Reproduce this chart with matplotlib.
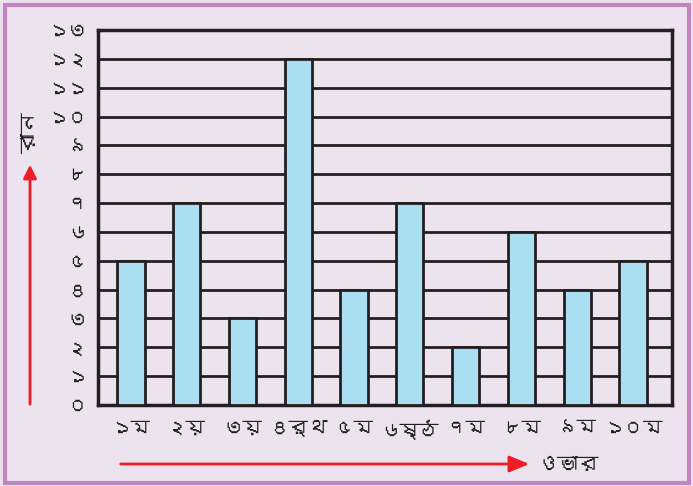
import matplotlib
matplotlib.use("Agg")
import matplotlib.pyplot as plt
from matplotlib import font_manager
from matplotlib.ft2font import FT2Font
from matplotlib.patches import Rectangle, FancyArrowPatch


def bengali_families():
    """Installed font families that carry Bengali glyphs."""
    found = []
    for entry in font_manager.fontManager.ttflist:
        try:
            cmap = FT2Font(entry.fname).get_charmap()
        except Exception:
            continue
        if 0x09B0 in cmap and 0x09E7 in cmap and entry.name not in found:
            found.append(entry.name)
    return found


families = bengali_families()
plt.rcParams['font.family'] = families + ['DejaVu Sans']

overs = ['১ম', '২য়', '৩য়', '৪র্থ', '৫ম', '৬ষ্ঠ', '৭ম', '৮ম', '৯ম', '১০ম']
runs = [5, 7, 3, 12, 4, 7, 2, 6, 4, 5]
y_ticks = list(range(0, 14))
y_tick_labels = ['০', '১', '২', '৩', '৪', '৫', '৬', '৭', '৮', '৯', '১০', '১১', '১২', '১৩']
x_title = 'ওভার'
y_title = 'রান'

bg = '#ede3ef'
ink = '#231f20'

fig = plt.figure(figsize=(6.93, 4.86), dpi=100, facecolor=bg)
ax = fig.add_axes([98 / 693, 1 - 405 / 486, (672 - 98) / 693, (405 - 30) / 486])
ax.set_facecolor(bg)

x = list(range(len(overs)))
ax.set_axisbelow(True)
ax.yaxis.grid(True, color=ink, linewidth=2)
ax.bar(x, runs, width=0.49, color='#aadff2', edgecolor=ink, linewidth=2, zorder=3)

ax.set_xlim(-0.59, 9.7)
ax.set_ylim(0, 13)
ax.set_yticks(y_ticks)
ax.set_yticklabels(y_tick_labels, fontsize=14, color=ink)
ax.set_xticks(x)
ax.set_xticklabels(overs, fontsize=14, color=ink)
ax.tick_params(axis='y', length=0, pad=8)
ax.tick_params(axis='x', length=0, pad=11)
for s in ax.spines.values():
    s.set_color(ink)
    s.set_linewidth(2.5)

# outer frame
fig.patches.append(Rectangle((5 / 693, 3 / 486), 684 / 693, 478 / 486, transform=fig.transFigure,
                             fill=False, edgecolor='#bf86c0', linewidth=3))

# axis arrows
fig.patches.append(FancyArrowPatch((30 / 693, 1 - 407 / 486), (30 / 693, 1 - 162 / 486),
                                   transform=fig.transFigure, arrowstyle='-|>,head_length=8,head_width=4',
                                   color='#ee1c25', linewidth=2))
fig.patches.append(FancyArrowPatch((118 / 693, 1 - 464 / 486), (532 / 693, 1 - 464 / 486),
                                   transform=fig.transFigure, arrowstyle='-|>,head_length=12,head_width=5',
                                   color='#ee1c25', linewidth=2))
fig.text(30 / 693, 1 - 133 / 486, y_title, rotation=90, ha='center', va='center', fontsize=15, color=ink)
fig.text(537 / 693, 1 - 465 / 486, x_title, ha='left', va='center', fontsize=15, color=ink)

fig.savefig('out.png', dpi=100, facecolor=bg)
